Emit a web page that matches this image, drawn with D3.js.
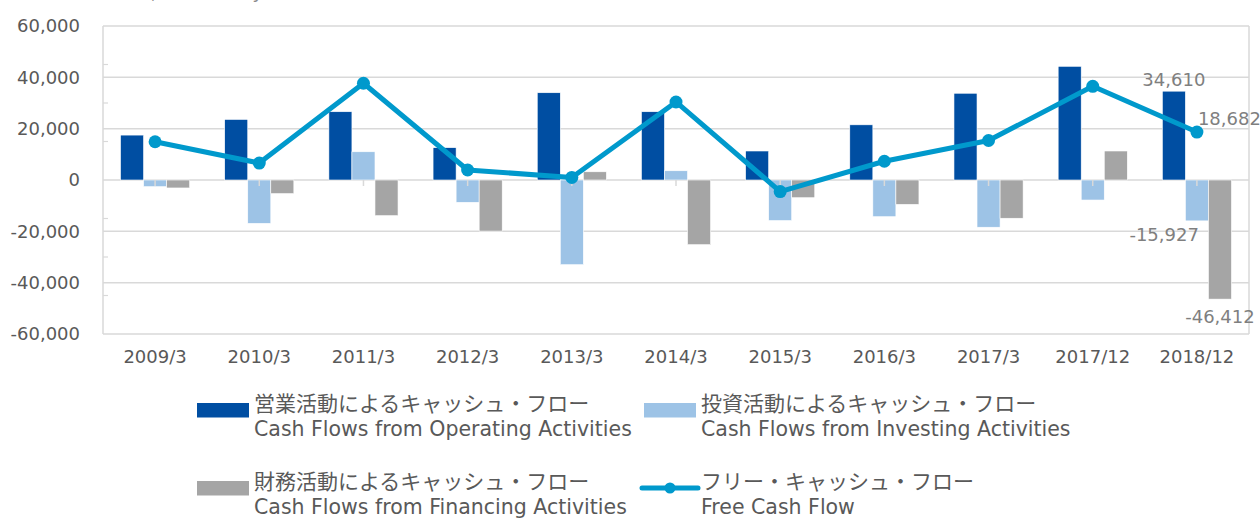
<!DOCTYPE html>
<html>
<head>
<meta charset="utf-8">
<script src="https://cdn.jsdelivr.net/npm/d3@7"></script>
<style>
  body { margin: 0; background: #fff; }
  svg text { fill: #595959; }
  .tick-label { font-family: "DejaVu Sans", sans-serif; font-size: 18px; }
  .jp { font-family: "Noto Sans CJK JP", sans-serif; font-size: 21px; }
  .en { font-family: "DejaVu Sans", sans-serif; font-size: 20.5px; }
  .data-label { font-family: "DejaVu Sans", sans-serif; font-size: 18px; fill: #7f7f7f !important; }
</style>
</head>
<body>
<div id="wrapper"></div>
<script>
// 1. Data (millions of yen)
const categories = ["2009/3", "2010/3", "2011/3", "2012/3", "2013/3", "2014/3", "2015/3", "2016/3", "2017/3", "2017/12", "2018/12"];
const operating = [17500, 23600, 26600, 12600, 34000, 26600, 11300, 21500, 33800, 44300, 34610];
const investing = [-2600, -16900, 11000, -8700, -33000, 3600, -15800, -14300, -18400, -7800, -15927];
const financing = [-3100, -5300, -13900, -19900, 3200, -25200, -6900, -9500, -14900, 11300, -46412];
const freeCashFlow = [14900, 6600, 37700, 3900, 1000, 30400, -4500, 7300, 15400, 36500, 18682];
const yTicks = [-60000, -40000, -20000, 0, 20000, 40000, 60000];
const minorTicks = [-45000, -30000, -15000, 15000, 30000, 45000];

const barSeries = [
    { key: "op", values: operating, color: "#004ea2" },
    { key: "inv", values: investing, color: "#9dc3e6" },
    { key: "fin", values: financing, color: "#a5a5a5" },
];
const lineColor = "#0099cc";

// plain hyphen for negatives, like the original
const fmt = d3.formatLocale({ decimal: ".", thousands: ",", grouping: [3], currency: ["", ""], minus: "-" }).format(",");

// 2. Dimensions
const dimensions = {
    width: 1260,
    height: 520,
    margin: { top: 26, right: 11, bottom: 186, left: 103 },
};
dimensions.boundedWidth = dimensions.width - dimensions.margin.left - dimensions.margin.right;
dimensions.boundedHeight = dimensions.height - dimensions.margin.top - dimensions.margin.bottom;

// 3. Canvas
const wrapper = d3.select("#wrapper")
    .append("svg")
    .attr("width", dimensions.width)
    .attr("height", dimensions.height);

// partly hidden unit note at the very top
wrapper.append("text")
    .attr("class", "jp")
    .attr("x", 22)
    .attr("y", -2)
    .style("font-size", "18px")
    .style("fill", "#8c8c8c")
    .text("（単位：百万円 / Millions of yen）");

const bounds = wrapper.append("g")
    .attr("transform", `translate(${dimensions.margin.left},${dimensions.margin.top})`);

// 4. Scales
const xScale = d3.scaleBand()
    .domain(categories)
    .range([0, dimensions.boundedWidth]);

const xInner = d3.scaleBand()
    .domain(barSeries.map(d => d.key))
    .range([0, xScale.bandwidth()])
    .paddingOuter(0.76);

const yScale = d3.scaleLinear()
    .domain([-60000, 60000])
    .range([dimensions.boundedHeight, 0]);

const xCenter = c => xScale(c) + xScale.bandwidth() / 2;

// 6. Peripherals (grid first)
const grid = bounds.append("g");
grid.selectAll("line")
    .data(yTicks)
    .join("line")
    .attr("x1", 0)
    .attr("x2", dimensions.boundedWidth)
    .attr("y1", d => yScale(d))
    .attr("y2", d => yScale(d))
    .attr("stroke", "#d9d9d9")
    .attr("stroke-width", 1.5);

// plot frame sides
grid.append("line")
    .attr("x1", 0).attr("x2", 0)
    .attr("y1", 0).attr("y2", dimensions.boundedHeight)
    .attr("stroke", "#d9d9d9").attr("stroke-width", 1.5);
grid.append("line")
    .attr("x1", dimensions.boundedWidth).attr("x2", dimensions.boundedWidth)
    .attr("y1", 0).attr("y2", dimensions.boundedHeight)
    .attr("stroke", "#d9d9d9").attr("stroke-width", 1.5);

grid.selectAll(".minor")
    .data(minorTicks)
    .join("line")
    .attr("class", "minor")
    .attr("x1", 0)
    .attr("x2", 5)
    .attr("y1", d => yScale(d))
    .attr("y2", d => yScale(d))
    .attr("stroke", "#d9d9d9")
    .attr("stroke-width", 1.2);

const yAxisLabels = bounds.append("g")
    .selectAll("text")
    .data(yTicks)
    .join("text")
    .attr("class", "tick-label")
    .attr("x", -23)
    .attr("y", d => yScale(d))
    .attr("dy", "0.35em")
    .attr("text-anchor", "end")
    .text(d => fmt(d));

// 5. Bars
const groups = bounds.append("g")
    .selectAll("g")
    .data(barSeries)
    .join("g")
    .attr("fill", d => d.color);

groups.selectAll("rect")
    .data(s => s.values.map((v, i) => ({ key: s.key, cat: categories[i], value: v })))
    .join("rect")
    .attr("x", d => xScale(d.cat) + xInner(d.key))
    .attr("width", xInner.bandwidth())
    .attr("y", d => yScale(Math.max(0, d.value)))
    .attr("height", d => Math.abs(yScale(d.value) - yScale(0)))
    .attr("stroke", "#fff")
    .attr("stroke-width", 0.6);

// category ticks on the zero line
bounds.append("g")
    .selectAll("line")
    .data(categories)
    .join("line")
    .attr("x1", d => xCenter(d))
    .attr("x2", d => xCenter(d))
    .attr("y1", yScale(0))
    .attr("y2", yScale(0) + 6)
    .attr("stroke", "#d9d9d9")
    .attr("stroke-width", 1.5);

// Free cash flow line
const lineGenerator = d3.line()
    .x((d, i) => xCenter(categories[i]))
    .y(d => yScale(d));

bounds.append("path")
    .datum(freeCashFlow)
    .attr("d", lineGenerator)
    .attr("fill", "none")
    .attr("stroke", lineColor)
    .attr("stroke-width", 5)
    .attr("stroke-linejoin", "round");

bounds.append("g")
    .selectAll("circle")
    .data(freeCashFlow)
    .join("circle")
    .attr("cx", (d, i) => xCenter(categories[i]))
    .attr("cy", d => yScale(d))
    .attr("r", 6.5)
    .attr("fill", lineColor);

// x labels
bounds.append("g")
    .selectAll("text")
    .data(categories)
    .join("text")
    .attr("class", "tick-label")
    .attr("x", d => xCenter(d))
    .attr("y", dimensions.boundedHeight + 23)
    .attr("dy", "0.35em")
    .attr("text-anchor", "middle")
    .text(d => d);

// data labels for the last period
const last = categories.length - 1;
const lastCat = categories[last];
const dataLabels = bounds.append("g");
dataLabels.append("text")
    .attr("class", "data-label")
    .attr("x", xScale(lastCat) + xInner("op") + xInner.bandwidth() / 2)
    .attr("y", yScale(operating[last]) - 11)
    .attr("dy", "0.35em")
    .attr("text-anchor", "middle")
    .text(fmt(operating[last]));
dataLabels.append("text")
    .attr("class", "data-label")
    .attr("x", xCenter(lastCat) + 1)
    .attr("y", yScale(freeCashFlow[last]) - 13)
    .attr("dy", "0.35em")
    .attr("text-anchor", "start")
    .text(fmt(freeCashFlow[last]));
dataLabels.append("text")
    .attr("class", "data-label")
    .attr("x", xCenter(lastCat) + 2)
    .attr("y", yScale(investing[last]) + 14)
    .attr("dy", "0.35em")
    .attr("text-anchor", "end")
    .text(fmt(investing[last]));
dataLabels.append("text")
    .attr("class", "data-label")
    .attr("x", xScale(lastCat) + xInner("fin") + xInner.bandwidth() / 2)
    .attr("y", yScale(financing[last]) + 18)
    .attr("dy", "0.35em")
    .attr("text-anchor", "middle")
    .text(fmt(financing[last]));

// Legend
const legendItems = [
    { jp: "営業活動によるキャッシュ・フロー", en: "Cash Flows from Operating Activities", color: barSeries[0].color, type: "rect", x: 197, y: 0 },
    { jp: "投資活動によるキャッシュ・フロー", en: "Cash Flows from Investing Activities", color: barSeries[1].color, type: "rect", x: 644, y: 0 },
    { jp: "財務活動によるキャッシュ・フロー", en: "Cash Flows from Financing Activities", color: barSeries[2].color, type: "rect", x: 197, y: 78 },
    { jp: "フリー・キャッシュ・フロー", en: "Free Cash Flow", color: lineColor, type: "line", x: 642, y: 78 },
];

const legend = wrapper.append("g")
    .attr("transform", "translate(0,403)");

const item = legend.selectAll("g")
    .data(legendItems)
    .join("g")
    .attr("transform", d => `translate(${d.x},${d.y})`);

item.filter(d => d.type === "rect")
    .append("rect")
    .attr("width", 52)
    .attr("height", 14.5)
    .attr("fill", d => d.color);

const lineItem = item.filter(d => d.type === "line");
lineItem.append("line")
    .attr("x1", 0).attr("x2", 56)
    .attr("y1", 7).attr("y2", 7)
    .attr("stroke", d => d.color)
    .attr("stroke-width", 5)
    .attr("stroke-linecap", "round");
lineItem.append("circle")
    .attr("cx", 28).attr("cy", 7).attr("r", 5.5)
    .attr("fill", d => d.color);

item.append("text")
    .attr("class", "jp")
    .attr("x", d => d.type === "rect" ? 57 : 59)
    .attr("y", 8)
    .text(d => d.jp);

item.append("text")
    .attr("class", "en")
    .attr("x", d => d.type === "rect" ? 57 : 59)
    .attr("y", 33)
    .text(d => d.en);
</script>
</body>
</html>
